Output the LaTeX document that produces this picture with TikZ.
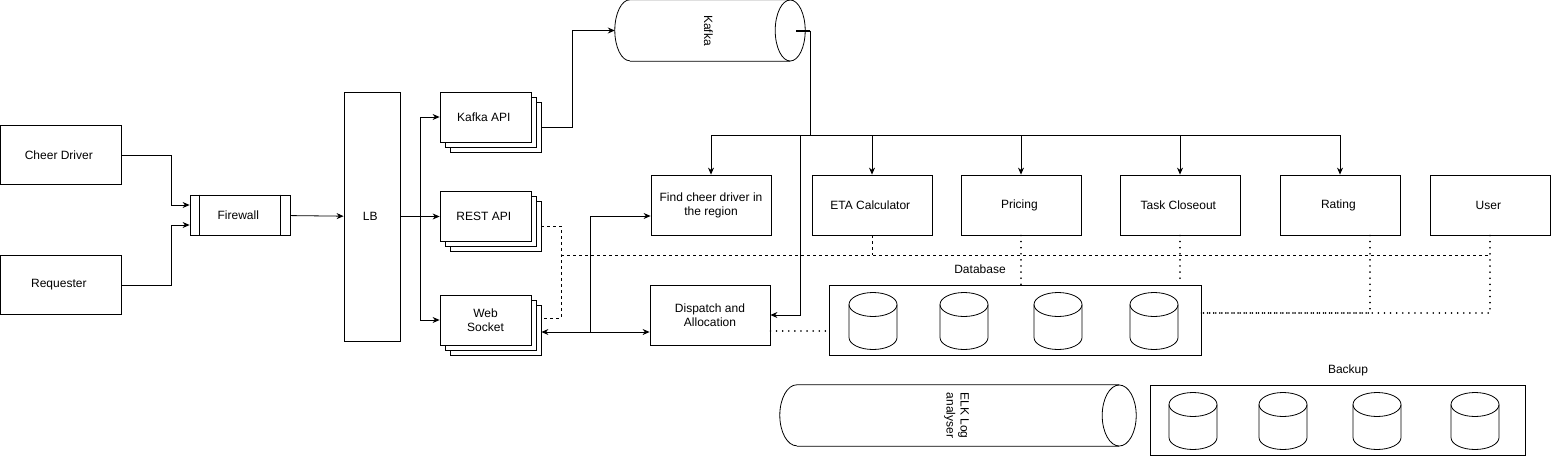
\documentclass[tikz,border=0pt]{standalone}
\usepackage{fontspec}
\setmainfont{Liberation Sans}
\usetikzlibrary{shadows,arrows.meta}

\begin{document}
\begin{tikzpicture}[
      x=1pt, y=-1pt,
      >={Stealth[length=7pt,width=6pt]},
      every node/.style={font=\fontsize{12}{14}\selectfont},
      box/.style={rectangle,
                  draw,
                  thick,
                  minimum width=120pt,
                  minimum height=60pt,
                  align=center,
                  inner sep=2pt},
      stack/.style={box,
                    minimum width=91pt,
                    minimum height=50pt,
                    fill=white,
                    double copy shadow={shadow xshift=5pt,
                                        shadow yshift=-5pt,
                                        fill=white, draw, thick}},
      store/.style={rectangle,
                    draw,
                    thick,
                    minimum width=372pt,
                    minimum height=70pt},
      pipe/.style={rectangle,
                   minimum height=61pt,
                   align=center,
                   inner sep=0pt},
      disk/.pic={
        \draw[thick] (-24pt,16.5pt) -- (-24pt,-16.5pt)
                     arc[start angle=180, end angle=360,
                         x radius=24pt, y radius=12pt]
                     -- (24pt,16.5pt);
        \draw[thick] (0pt,16.5pt) ellipse [x radius=24pt, y radius=12pt];
      },
      dashline/.style={thick, dash pattern=on 3pt off 3pt},
      dotline/.style={line width=1.6pt, dash pattern=on 0.1pt off 6pt,
                      line cap=round}
    ]

    \useasboundingbox (0,0) rectangle (1552,456);

    % clients
    \draw (60.5,155)
          node[box, minimum width=121pt, minimum height=59pt]
          (cheer)
          { Cheer Driver };
    \draw (60.5,285)
          node[box, minimum width=121pt, minimum height=59pt]
          (requester)
          { Requester };
    \draw (240,215)
          node[box, minimum width=100pt, minimum height=40pt]
          (fw)
          { Firewall };
    \draw[thick] ([xshift=10pt]fw.north west) -- ([xshift=10pt]fw.south west);
    \draw[thick] ([xshift=-10pt]fw.north east) -- ([xshift=-10pt]fw.south east);
    \draw (372,216.5)
          node[box, minimum width=56pt, minimum height=249pt]
          (lb)
          { LB };

    % api layer
    \draw (485.5,117)
          node[stack]
          (kapi)
          { Kafka API };
    \draw (485.5,216)
          node[stack]
          (rest)
          { REST API };
    \draw (485.5,320)
          node[stack]
          (ws)
          { Web\\Socket };

    % kafka
    \draw (710,30.5)
          node[pipe, minimum width=190pt]
          (kafka)
          { \rotatebox{-90}{Kafka} };
    \draw[thick] ([xshift=15pt]kafka.north west) -- ([xshift=-15pt]kafka.north east)
                 ([xshift=15pt]kafka.south west) -- ([xshift=-15pt]kafka.south east)
                 ([xshift=15pt]kafka.north west)
                 arc[start angle=90, end angle=270, x radius=15pt, y radius=30.5pt];
    \draw[thick] ([xshift=-15pt]kafka.east) ellipse [x radius=15pt, y radius=30.5pt];
    \coordinate (bus) at (810,135);
    \coordinate (tap) at (800,135);

    % services
    \draw (711,205)
          node[box]
          (find)
          { Find cheer driver in\\the region };
    \draw (872,205)
          node[box]
          (eta)
          { ETA Calculator };
    \draw (1021,205)
          node[box]
          (pricing)
          { Pricing };
    \draw (1180,205)
          node[box]
          (task)
          { Task Closeout };
    \draw (1340,205)
          node[box]
          (rating)
          { Rating };
    \draw (1490,205)
          node[box]
          (user)
          { User };
    \draw (710,315)
          node[box]
          (disp)
          { Dispatch and\\Allocation };

    % storage
    \draw (980,269)
          node
          (dblabel)
          { Database };
    \draw (1015,320)
          node[store]
          (db)
          {};
    \draw (873,321) pic {disk};
    \draw (964,321) pic {disk};
    \draw (1058,321) pic {disk};
    \draw (1154,321) pic {disk};
    \draw (1348,370)
          node
          (bklabel)
          { Backup };
    \draw (1337.5,420.5)
          node[store, minimum width=375pt]
          (backup)
          {};
    \draw (1193,421) pic {disk};
    \draw (1283,421) pic {disk};
    \draw (1377,421) pic {disk};
    \draw (1475,421) pic {disk};
    \draw (958,415.5)
          node[pipe, minimum width=356pt]
          (elk)
          { \rotatebox{-90}{\begin{tabular}{@{}c@{}}ELK Log\\analyser\end{tabular}} };
    \draw[thick] ([xshift=17pt]elk.north west) -- ([xshift=-17pt]elk.north east)
                 ([xshift=17pt]elk.south west) -- ([xshift=-17pt]elk.south east)
                 ([xshift=17pt]elk.north west)
                 arc[start angle=90, end angle=270, x radius=17pt, y radius=30.5pt];
    \draw[thick] ([xshift=-17pt]elk.east) ellipse [x radius=17pt, y radius=30.5pt];

    % connectors
    \draw [thick,->] (cheer.east) -- ++(50,0) |- ([yshift=10pt]fw.west);
    \draw [thick,->] (requester.east) -- ++(50,0) |- ([yshift=-10pt]fw.west);
    \draw [thick,->] (fw) -- (lb);
    \draw [thick,->] (lb.east) -- ++(20,0) |- (kapi.west);
    \draw [thick,->] (lb.east) -- (lb.east -| rest.west);
    \draw [thick,->] (lb.east) -- ++(20,0) |- (ws.west);
    \draw [thick,->] ([xshift=10pt,yshift=-10pt]kapi.east) -- ++(31,0) |- (kafka.west);

    \draw [line width=2pt] ([xshift=-9pt]kafka.east) -- (kafka.east -| bus);
    \draw [thick] (kafka.east -| bus) -- (bus);
    \draw [thick,->] (bus) -| (find.north);
    \draw [thick,->] (bus) -| (eta.north);
    \draw [thick,->] (bus) -| (pricing.north);
    \draw [thick,->] (bus) -| (task.north);
    \draw [thick,->] (bus) -| (rating.north);
    \draw [thick,->] (tap) |- (disp.east);

    \coordinate (split) at (590,332);
    \draw [thick,<->] ([xshift=10pt,yshift=-12pt]ws.east) -- ([yshift=-17pt]disp.west);
    \draw [thick,->] (split) |- ([yshift=-11pt]find.west);

    % data links
    \coordinate (dleft) at (561,255);
    \coordinate (dright) at (1490,255);
    \draw [dashline] ([xshift=10pt,yshift=-10pt]rest.east) -| (dleft)
                     |- ([xshift=10pt,yshift=2pt]ws.east);
    \draw [dashline] (dleft) -- (dright);
    \draw [dashline] (eta.south) -- (eta.south |- dleft);
    \draw [dotline] (pricing.south) -- (pricing.south |- db.north);
    \draw [dotline] (task.south) -- ++(0,43);
    \draw [dotline] ([yshift=7pt]db.east) -| (user.south);
    \draw [dotline] ([xshift=30pt]rating.south) |- ([yshift=7pt]db.east);
    \draw [dotline] ([yshift=-16pt]disp.east) -- ([yshift=-16pt]disp.east -| db.west);

\end{tikzpicture}
\end{document}
